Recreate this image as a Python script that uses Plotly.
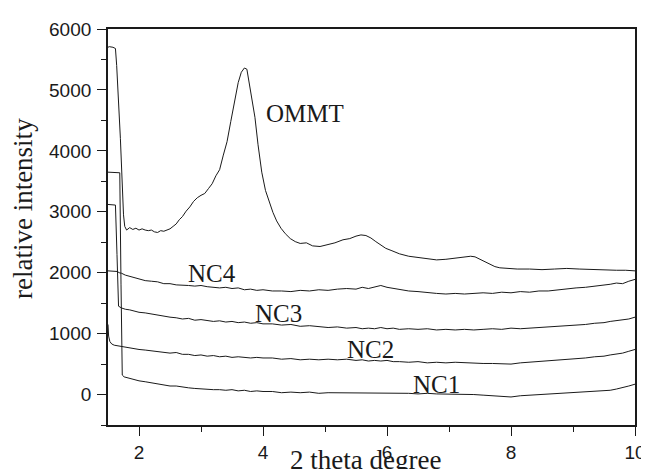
import plotly.graph_objects as go

# ---- data ----
x_ommt = [1.50, 1.52, 1.58, 1.62, 1.64, 1.70, 1.75, 1.77, 1.80, 1.85,
          1.90, 1.95, 2.00, 2.05, 2.10, 2.15, 2.20, 2.25, 2.30, 2.35,
          2.40, 2.45, 2.50, 2.55, 2.60, 2.65, 2.70, 2.76, 2.82, 2.88,
          2.94, 3.00, 3.06, 3.12, 3.18, 3.24, 3.30, 3.36, 3.42, 3.48,
          3.54, 3.60, 3.65, 3.70, 3.74, 3.78, 3.82, 3.87, 3.92, 3.98,
          4.04, 4.10, 4.16, 4.22, 4.29, 4.36, 4.44, 4.52, 4.60, 4.70,
          4.80, 4.92, 5.04, 5.16, 5.29, 5.40, 5.50, 5.58, 5.66, 5.74,
          5.82, 5.90, 5.98, 6.08, 6.20, 6.35, 6.50, 6.65, 6.80, 6.95,
          7.10, 7.25, 7.35, 7.42, 7.50, 7.58, 7.66, 7.74, 7.82, 7.95,
          8.10, 8.30, 8.50, 8.70, 8.90, 9.10, 9.30, 9.50, 9.70, 9.85,
          10.0]
y_ommt = [5700, 5710, 5700, 5680, 5400, 4200, 2950, 2760, 2700, 2740,
          2710, 2730, 2700, 2720, 2700, 2690, 2700, 2670, 2660, 2690,
          2680, 2700, 2720, 2760, 2800, 2870, 2920, 3010, 3080, 3170,
          3230, 3270, 3300, 3380, 3460, 3590, 3690, 3930, 4150, 4480,
          4800, 5120, 5290, 5360, 5340, 5100, 4850, 4550, 4100, 3650,
          3350, 3150, 2990, 2850, 2730, 2640, 2560, 2510, 2480, 2490,
          2440, 2430, 2460, 2490, 2540, 2560, 2600, 2620, 2610, 2570,
          2510, 2460, 2400, 2360, 2310, 2270, 2250, 2230, 2210, 2220,
          2240, 2250, 2270, 2260, 2220, 2180, 2130, 2100, 2080, 2070,
          2060, 2060, 2050, 2060, 2070, 2060, 2050, 2050, 2040, 2040,
          2030]

# shared 2-theta grid for the NC curves after the low-angle part
x_tail = [2.10, 2.20, 2.30, 2.40, 2.50, 2.60, 2.70, 2.80, 2.90, 3.00,
          3.10, 3.20, 3.30, 3.40, 3.50, 3.60, 3.70, 3.80, 3.90, 4.00,
          4.15, 4.30, 4.45, 4.60, 4.75, 4.90, 5.05, 5.20, 5.35, 5.50,
          5.60, 5.70, 5.80, 5.90, 6.00, 6.10, 6.20, 6.35, 6.50, 6.65,
          6.80, 6.95, 7.10, 7.25, 7.40, 7.55, 7.70, 7.85, 8.00, 8.15,
          8.30, 8.45, 8.60, 8.75, 8.90, 9.05, 9.20, 9.35, 9.50, 9.60,
          9.70, 9.80, 9.90, 10.0]

x_nc4_head = [1.50, 1.55, 1.60, 1.65, 1.68, 1.72, 1.78, 1.85, 1.92, 2.00]
y_nc4_head = [2030, 2030, 2030, 2020, 2000, 1990, 1960, 1940, 1920, 1890]
y_nc4_tail = [1870, 1860, 1850, 1820, 1820, 1800, 1800, 1790, 1780, 1790,
              1770, 1760, 1750, 1760, 1740, 1750, 1720, 1730, 1710, 1720,
              1700, 1700, 1690, 1710, 1700, 1720, 1710, 1730, 1740, 1730,
              1760, 1740, 1770, 1790, 1760, 1740, 1720, 1700, 1690, 1670,
              1660, 1650, 1660, 1650, 1660, 1670, 1660, 1680, 1670, 1690,
              1680, 1700, 1700, 1720, 1730, 1750, 1760, 1780, 1790, 1810,
              1830, 1820, 1860, 1890]

x_nc3_head = [1.50, 1.55, 1.62, 1.645, 1.67, 1.72, 1.78, 1.85, 1.92, 2.00]
y_nc3_head = [3120, 3120, 3110, 2300, 1450, 1420, 1400, 1390, 1370, 1350]
y_nc3_tail = [1340, 1320, 1300, 1290, 1270, 1260, 1240, 1250, 1220, 1230,
              1210, 1200, 1210, 1190, 1200, 1180, 1190, 1170, 1180, 1160,
              1160, 1140, 1150, 1120, 1130, 1110, 1100, 1110, 1090, 1100,
              1080, 1090, 1080, 1100, 1080, 1090, 1070, 1080, 1070, 1080,
              1060, 1070, 1060, 1070, 1060, 1070, 1080, 1070, 1090, 1080,
              1090, 1100, 1100, 1120, 1120, 1140, 1150, 1170, 1180, 1200,
              1210, 1230, 1240, 1270]

x_nc2_head = [1.50, 1.51, 1.53, 1.56, 1.60, 1.66, 1.72, 1.78, 1.85, 1.92, 2.00]
y_nc2_head = [1150, 960, 870, 830, 810, 800, 790, 770, 770, 750, 740]
y_nc2_tail = [730, 720, 700, 700, 680, 690, 660, 660, 640, 650,
              630, 640, 620, 630, 610, 620, 610, 600, 610, 600,
              600, 580, 590, 570, 580, 570, 580, 570, 580, 560,
              570, 550, 560, 550, 560, 540, 540, 530, 540, 520,
              530, 520, 530, 520, 520, 510, 510, 500, 500, 520,
              530, 540, 550, 560, 570, 590, 600, 620, 630, 650,
              660, 680, 710, 740]

x_nc1_head = [1.50, 1.55, 1.62, 1.69, 1.71, 1.73, 1.76, 1.80, 1.85, 1.92, 2.00]
y_nc1_head = [3650, 3650, 3650, 3640, 1800, 320, 290, 280, 260, 240, 225]
y_nc1_tail = [210, 190, 170, 160, 140, 140, 120, 110, 100, 90,
              90, 80, 80, 70, 80, 60, 70, 50, 60, 50,
              50, 30, 40, 30, 40, 20, 30, 30, 20, 30,
              20, 30, 20, 30, 20, 30, 20, 20, 10, 20,
              10, 10, 0, 10, 0, -10, -20, -30, -40, -20,
              -10, 0, 10, 20, 30, 30, 40, 50, 60, 70,
              90, 110, 140, 170]

labels = ["OMMT", "NC4", "NC3", "NC2", "NC1"]
label_x = [4.67, 3.17, 4.25, 5.74, 6.80]
label_y = [4620, 1980, 1323, 733, 160]

x_ticks = [2, 4, 6, 8, 10]
y_ticks = [0, 1000, 2000, 3000, 4000, 5000, 6000]

# ---- figure ----
line_style = dict(color="#1a1a1a", width=1)
series = [
    (x_ommt, y_ommt),
    (x_nc4_head + x_tail, y_nc4_head + y_nc4_tail),
    (x_nc3_head + x_tail, y_nc3_head + y_nc3_tail),
    (x_nc2_head + x_tail, y_nc2_head + y_nc2_tail),
    (x_nc1_head + x_tail, y_nc1_head + y_nc1_tail),
]

fig = go.Figure()
for (xs, ys), name in zip(series, labels):
    fig.add_trace(go.Scatter(x=xs, y=ys, mode="lines", line=line_style,
                             name=name, showlegend=False))

serif = "Liberation Serif, Times New Roman, serif"
for t, lx, ly in zip(labels, label_x, label_y):
    fig.add_annotation(x=lx, y=ly, xref="x", yref="y", text=t, showarrow=False,
                       font=dict(family=serif, size=25, color="#1a1a1a"),
                       xanchor="center", yanchor="middle")

fig.add_annotation(x=0.489, y=-0.088, xref="paper", yref="paper",
                   text="2 theta degree", showarrow=False,
                   font=dict(family=serif, size=27, color="#1a1a1a"),
                   xanchor="center", yanchor="middle")
fig.add_annotation(x=-0.16, y=0.547, xref="paper", yref="paper",
                   text="relative intensity", showarrow=False, textangle=-90,
                   font=dict(family=serif, size=27, color="#1a1a1a"),
                   xanchor="center", yanchor="middle")

tickfont = dict(family="Liberation Sans, Arial, sans-serif", size=19, color="#1a1a1a")
fig.update_xaxes(range=[1.5, 10], tickvals=x_ticks, ticks="outside", ticklen=9,
                 tickwidth=1.3, tickcolor="#1a1a1a", showline=True, linewidth=1.6,
                 linecolor="#1a1a1a", mirror=True, showgrid=False, zeroline=False,
                 tickfont=tickfont,
                 minor=dict(dtick=1, tick0=1, ticks="outside", ticklen=5,
                            tickwidth=1.2, tickcolor="#1a1a1a", showgrid=False))
fig.update_yaxes(range=[-500, 6000], tickvals=y_ticks, ticks="outside", ticklen=9,
                 tickwidth=1.3, tickcolor="#1a1a1a", showline=True, linewidth=1.8,
                 linecolor="#1a1a1a", mirror=True, showgrid=False, zeroline=False,
                 tickfont=tickfont, ticklabelstandoff=2,
                 minor=dict(dtick=500, tick0=0, ticks="outside", ticklen=5,
                            tickwidth=1.2, tickcolor="#1a1a1a", showgrid=False))

fig.update_layout(width=649, height=469,
                  margin=dict(l=100, r=11, t=20, b=52),
                  paper_bgcolor="white", plot_bgcolor="white")

fig.write_html("out.html")
